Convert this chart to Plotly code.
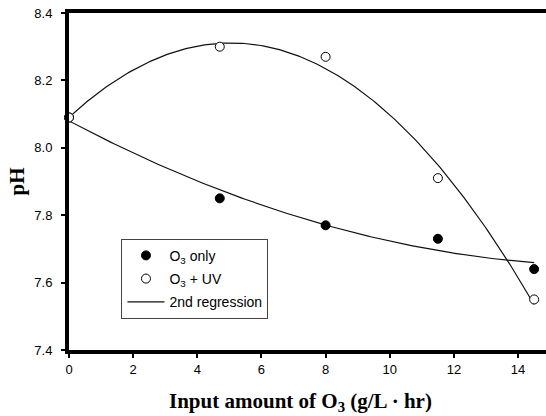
import numpy as np
import plotly.graph_objects as go

# Data
ozone_input = [0, 4.7, 8.0, 11.5, 14.5]
ph_o3_only = [8.09, 7.85, 7.77, 7.73, 7.64]
ph_o3_uv = [8.09, 8.30, 8.27, 7.91, 7.55]
x_ticks = [0, 2, 4, 6, 8, 10, 12, 14]
y_ticks = [7.4, 7.6, 7.8, 8.0, 8.2, 8.4]

# 2nd-order regression of each series
fit_x = np.linspace(min(ozone_input), max(ozone_input), 200)
fit_only = np.polyval(np.polyfit(ozone_input, ph_o3_only, 2), fit_x)
fit_uv = np.polyval(np.polyfit(ozone_input, ph_o3_uv, 2), fit_x)

fig = go.Figure()
fig.add_trace(go.Scatter(x=fit_x, y=fit_only, mode="lines", line=dict(color="#111", width=1.2),
                         name="2nd regression", legendrank=3, legendgroup="c"))
fig.add_trace(go.Scatter(x=fit_x, y=fit_uv, mode="lines", line=dict(color="#111", width=1.2),
                         showlegend=False))
fig.add_trace(go.Scatter(x=ozone_input, y=ph_o3_only, mode="markers", name="O<sub>3</sub> only",
                         marker=dict(color="black", size=9, line=dict(color="black", width=1)),
                         cliponaxis=False, legendrank=1, legendgroup="a"))
fig.add_trace(go.Scatter(x=ozone_input, y=ph_o3_uv, mode="markers", name="O<sub>3</sub> + UV",
                         marker=dict(color="white", size=9, line=dict(color="black", width=1)),
                         cliponaxis=False, legendrank=2, legendgroup="b"))

fig.update_layout(
    width=546, height=416,
    margin=dict(l=69, r=0, t=13, b=66),
    paper_bgcolor="white", plot_bgcolor="white",
    font=dict(family="Liberation Sans, Arial", size=13, color="black"),
    showlegend=True,
    legend=dict(x=0.11, y=0.33, xanchor="left", yanchor="top",
                bgcolor="white", bordercolor="#444", borderwidth=1,
                font=dict(size=14), tracegroupgap=2, traceorder="grouped", itemwidth=37),
    xaxis=dict(range=[0, 14.87], tickvals=x_ticks, showgrid=False, zeroline=False,
               showline=True, linewidth=4, linecolor="black", mirror=True,
               ticks="outside", ticklen=4, tickwidth=1.5, tickcolor="black"),
    yaxis=dict(range=[7.4, 8.4], tickvals=y_ticks, tickformat=".1f", showgrid=False, zeroline=False,
               showline=True, linewidth=4, linecolor="black",
               ticks="outside", ticklen=4, tickwidth=1.5, tickcolor="black", ticklabelstandoff=6),
    annotations=[
        dict(text="<b>Input amount of O<sub>3</sub> (g/L · hr)</b>", xref="paper", yref="paper",
             x=0.486, y=-0.155, xanchor="center", yanchor="middle", showarrow=False,
             font=dict(family="Liberation Serif, Times New Roman", size=21)),
        dict(text="<b>pH</b>", xref="paper", yref="paper", x=-0.111, y=0.5, textangle=-90,
             xanchor="center", yanchor="middle", showarrow=False,
             font=dict(family="Liberation Serif, Times New Roman", size=21)),
    ],
)

fig.write_html("out.html")
